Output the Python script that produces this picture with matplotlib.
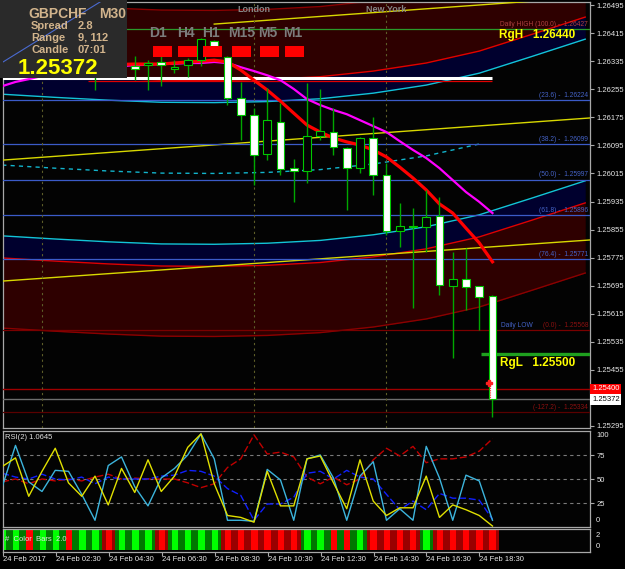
import matplotlib
matplotlib.use("Agg")
import matplotlib.pyplot as plt
import matplotlib.transforms as mtransforms
from matplotlib.patches import Rectangle
import numpy as np

W, H = 625, 569
plt.rcParams['font.family'] = ['Liberation Sans', 'DejaVu Sans']

# header box
symbol = "GBPCHF"
period = "M30"
spread = "2.8"
range_txt = "9, 112"
candle_timer = "07:01"
bid = 1.25372
alert_price = 1.25400

# M30 candles, 24 Feb 2017 00:30 .. 19:00
opens = [1.26315, 1.26325, 1.26318, 1.26305, 1.26322, 1.26330, 1.26310, 1.26320, 1.26326, 1.26312,
         1.26321, 1.26324, 1.26333, 1.26313, 1.26324, 1.26338, 1.26392, 1.26347, 1.26230, 1.26181,
         1.26070, 1.26162, 1.26030, 1.26022, 1.26122, 1.26133, 1.26087, 1.26030, 1.26116, 1.26011,
         1.25851, 1.25862, 1.25862, 1.25894, 1.25694, 1.25714, 1.25694, 1.25666]
highs = [1.26335, 1.26345, 1.26330, 1.26330, 1.26340, 1.26338, 1.26328, 1.26336, 1.26342, 1.26335,
         1.26350, 1.26338, 1.26352, 1.26338, 1.26344, 1.26401, 1.26395, 1.26350, 1.26276, 1.26202,
         1.26258, 1.26216, 1.26056, 1.26273, 1.26256, 1.26202, 1.26090, 1.26119, 1.26176, 1.26045,
         1.25931, 1.25916, 1.25968, 1.25948, 1.25791, 1.25802, 1.25694, 1.25668]
lows = [1.26300, 1.26310, 1.26295, 1.26298, 1.26312, 1.26305, 1.26296, 1.26253, 1.26300, 1.26298,
        1.26281, 1.26253, 1.26264, 1.26301, 1.26290, 1.26321, 1.26372, 1.26210, 1.26110, 1.25982,
        1.26053, 1.26011, 1.25934, 1.25988, 1.26110, 1.26067, 1.25911, 1.26016, 1.25953, 1.25839,
        1.25805, 1.25631, 1.25791, 1.25668, 1.25489, 1.25626, 1.25569, 1.25321]
closes = [1.26325, 1.26318, 1.26305, 1.26322, 1.26330, 1.26310, 1.26320, 1.26326, 1.26312, 1.26321,
          1.26313, 1.26330, 1.26324, 1.26318, 1.26338, 1.26398, 1.26375, 1.26230, 1.26181, 1.26067,
          1.26167, 1.26028, 1.26022, 1.26122, 1.26136, 1.26090, 1.26030, 1.26116, 1.26011, 1.25851,
          1.25865, 1.25865, 1.25891, 1.25697, 1.25714, 1.25691, 1.25663, 1.25372]

ma_fast = [1.26322, 1.26322, 1.26323, 1.26323, 1.26324, 1.26324, 1.26325, 1.26325, 1.26326, 1.26326,
           1.26327, 1.26327, 1.26327, 1.26330, 1.26333, 1.26335, 1.26338, 1.26333, 1.26310, 1.26281,
           1.26253, 1.26221, 1.26187, 1.26153, 1.26133, 1.26116, 1.26105, 1.26096, 1.26082, 1.26062,
           1.26033, 1.26002, 1.25968, 1.25928, 1.25902, 1.25859, 1.25817, 1.25763]
ma_slow = [1.26264, 1.26276, 1.26284, 1.26293, 1.26301, 1.26307, 1.26313, 1.26315, 1.26318, 1.26321,
           1.26324, 1.26325, 1.26327, 1.26328, 1.26330, 1.26330, 1.26333, 1.26330, 1.26318, 1.26307,
           1.26295, 1.26281, 1.26256, 1.26227, 1.26210, 1.26196, 1.26184, 1.26167, 1.26150, 1.26133,
           1.26107, 1.26082, 1.26059, 1.26030, 1.25996, 1.25962, 1.25934, 1.25902]

# regression channel: centre read every 4 bars, half widths of the bands
chan_bars = [0, 4, 8, 12, 16, 20, 24, 28, 32, 36, 40, 44]
chan_mid = [1.26039, 1.26030, 1.26022, 1.26016, 1.26015, 1.26018,
            1.26026, 1.26042, 1.26065, 1.26099, 1.26147, 1.26196]
band_inner = 0.00202
band_mid = 0.00265
band_outer = 0.00465

# yellow regression lines (ends)
lin_bars = [0, 45]
lin_upper = [1.26053, 1.26175]
lin_lower = [1.25708, 1.25827]
lin_top_bars = [16, 45]
lin_top = [1.26441, 1.26520]

trend_bars = [0.06, 7.38]
trend_prices = [1.26333, 1.26504]

fib_names = ["Daily HIGH (100.0)", "(23.6)", "(38.2)", "(50.0)", "(61.8)", "(76.4)",
             "(0.0)", "(-127.2)"]
fib_prices = [1.26427, 1.26224, 1.26099, 1.25997, 1.25896, 1.25771, 1.25568, 1.25334]

session_bars = [3, 19, 29]
session_names = ["", "London", "New York"]

day_open = 1.26287
open_red = 1.26279
rgh = 1.26440
rgl = 1.25500
marker_price = 1.25418

price_ticks = [1.26495, 1.26415, 1.26335, 1.26255, 1.26175, 1.26095, 1.26015, 1.25935,
               1.25855, 1.25775, 1.25695, 1.25615, 1.25535, 1.25455, 1.25295]
time_bars = [0, 4, 8, 12, 16, 20, 24, 28, 32, 36]
time_labels = ["24 Feb 2017", "24 Feb 02:30", "24 Feb 04:30", "24 Feb 06:30", "24 Feb 08:30",
               "24 Feb 10:30", "24 Feb 12:30", "24 Feb 14:30", "24 Feb 16:30", "24 Feb 18:30"]

tf_labels = ["D1", "H4", "H1", "M15", "M5", "M1"]

rsi_value = "1.0645"
rsi_yellow = [63, 72, 32, 58, 82, 46, 32, 53, 23, 61, 36, 70, 37, 53, 83, 97, 45, 12, 10, 5,
              58, 22, 22, 71, 74, 46, 19, 70, 27, 12, 20, 20, 53, 10, 23, 18, 12, 1]
rsi_cyan = [42, 85, 47, 37, 59, 58, 34, 7, 64, 73, 42, 22, 51, 61, 75, 97, 71, 7, 7, 6,
            60, 49, 7, 71, 75, 51, 7, 53, 68, 7, 19, 7, 84, 51, 7, 54, 48, 7]
rsi_blue = [56, 52, 50, 55, 50, 49, 52, 45, 52, 50, 50, 50, 53, 54, 59, 58, 53, 40, 33, 7,
            24, 24, 31, 56, 58, 50, 59, 52, 50, 34, 18, 27, 18, 35, 30, 30, 28, 8]
rsi_red = [47, 50, 45, 50, 48, 50, 48, 52, 55, 50, 51, 50, 50, 50, 46, 41, 45, 62, 71, 96,
           76, 78, 73, 52, 45, 52, 44, 50, 70, 82, 74, 84, 67, 71, 71, 73, 79, 92]

# colour bars: G = up, R = down (bright inner / dark outer)
strip_inner = "GGRGGRGGRGGGRGGGGRRRRRRGGRRGRRRRGRRRRR"
strip_outer = "GGGGGGGGRGGGRGGGGRRRRRRGGGGGRRRRGRRRRR"

# ---------------------------------------------------------------
fig = plt.figure(figsize=(W / 100, H / 100), dpi=100, facecolor='black')
pix = mtransforms.Affine2D().scale(1 / W, -1 / H).translate(0, 1) + fig.transFigure
XLIM = (0.057, 44.36)


def panel(top, bottom):
    a = fig.add_axes([3 / W, 1 - bottom / H, 587 / W, (bottom - top) / H])
    a.set_facecolor('#030303')
    for s in a.spines.values():
        s.set_color('#a8a8a8')
        s.set_linewidth(0.9)
    a.set_xlim(*XLIM)
    a.set_xticks([])
    a.yaxis.tick_right()
    a.tick_params(axis='y', colors='#a8a8a8', labelcolor='#e8e8e8', labelsize=5.5,
                  length=3, width=0.8, pad=2)
    return a


ax = panel(2, 428)
ax_rsi = panel(431, 527)
ax_bar = panel(529, 552)

n = len(opens)
ax.set_ylim(1.25289, 1.26504)
ax.set_yticks(price_ticks)
ax.set_yticklabels([f"{p:.5f}" for p in price_ticks])

# channel bands
cb = np.array(chan_bars)
cm = np.array(chan_mid)
navy, maroon = '#00002e', '#2e0000'
for sg in (1, -1):
    ax.fill_between(cb, cm + sg * band_inner, cm + sg * band_mid, color=navy, lw=0, zorder=1)
    ax.fill_between(cb, cm + sg * band_mid, cm + sg * band_outer, color=maroon, lw=0, zorder=1)
    ax.plot(cb, cm + sg * band_inner, color='#12c4d8', lw=1, zorder=2)
    ax.plot(cb, cm + sg * band_mid, color='#e00000', lw=1, zorder=2)
    ax.plot(cb, cm + sg * band_outer, color='#8b0000', lw=1, zorder=2)
inside = cb <= n - 1
ax.plot(cb[inside], cm[inside], color='#12b4cc', lw=1, ls=(0, (3, 3)), zorder=2)

ax.plot(lin_bars, lin_upper, color='#d8d800', lw=1, zorder=3)
ax.plot(lin_bars, lin_lower, color='#d8d800', lw=1, zorder=3)
ax.plot(lin_top_bars, lin_top, color='#d8d800', lw=1, zorder=3)

# fibonacci levels
blend = mtransforms.blended_transform_factory(ax.transAxes, ax.transData)
fib_line_cols = ['#2a9a2a'] + ['#3b5bc8'] * 5 + ['#7a0000', '#5a0000']
fib_txt_cols = ['#b04040'] + ['#4563c8'] * 5 + ['#8a1010', '#8a1010']
for name, p, lc, tc in zip(fib_names, fib_prices, fib_line_cols, fib_txt_cols):
    ax.axhline(p, color=lc, lw=0.9, zorder=3)
    ax.text(0.997, p + 0.00004, f"{name} -  {p:.5f}", transform=blend, ha='right',
            va='bottom', fontsize=4.8, color=tc, zorder=4)
ax.text(0.903, fib_prices[6] + 0.00004, "Daily LOW", transform=blend, ha='right',
        va='bottom', fontsize=4.8, color='#4563c8', zorder=4)

ax.axhline(alert_price, color='#a00000', lw=1, zorder=3)
ax.axhline(bid, color='#6e6e6e', lw=1, zorder=3)

# sessions
sess_tr = mtransforms.blended_transform_factory(ax.transData, pix)
for b, name in zip(session_bars, session_names):
    ax.axvline(b, color='#5e5e28', lw=0.8, ls=(0, (2, 3)), zorder=3)
    if name:
        ax.text(b, 10, name, transform=sess_tr, ha='center', va='center', fontsize=6.5,
                fontweight='bold', color='#858585', zorder=4)

ax.hlines(day_open, 0, n - 1, color='white', lw=2.2, zorder=4)
ax.hlines(open_red, 6.5, n - 1, color='#e00000', lw=0.9, zorder=4)
ax.hlines(rgl, 36.1, XLIM[1], color='#1fa01f', lw=2.4, zorder=4)

x = np.arange(n)
ax.plot(x, ma_slow, color='#ff00ff', lw=1.6, zorder=5)
ax.plot(x, ma_fast, color='#ff0000', lw=2.3, zorder=5)

# candles
for i in range(n):
    o, h, l, c = opens[i], highs[i], lows[i], closes[i]
    ax.vlines(i, l, h, color='#00a800', lw=1, zorder=6)
    lo, hi = min(o, c), max(o, c)
    ax.add_patch(Rectangle((i - 0.3, lo), 0.6, max(hi - lo, 0.00003),
                           facecolor='#030303' if c >= o else 'white',
                           edgecolor='#00c800', lw=0.8, zorder=7))

ax.plot([36.85, 36.85], [marker_price, bid], color='#ff3030', lw=0.8, ls=(0, (1, 1)), zorder=8)
ax.plot(36.75, marker_price, marker='P', color='#ff2020', ms=4, zorder=8)

# RgH / RgL labels
ax.text(499, 35, f"RgH   {rgh:.5f}", transform=pix, ha='left', va='center', fontsize=8.5,
        fontweight='bold', color='#ffff00', zorder=9)
ax.text(500, 363, f"RgL   {rgl:.5f}", transform=pix, ha='left', va='center', fontsize=8.5,
        fontweight='bold', color='#ffff00', zorder=9)

# price boxes on the axis
ax.text(592, 389, f"{alert_price:.5f}", transform=pix, ha='left', va='center', fontsize=5.5,
        color='white', zorder=30,
        bbox=dict(boxstyle='square,pad=0.2', facecolor='#ff0000', edgecolor='none'))
ax.text(592, 399.5, f"{bid:.5f}", transform=pix, ha='left', va='center', fontsize=5.5,
        color='black', zorder=30,
        bbox=dict(boxstyle='square,pad=0.2', facecolor='white', edgecolor='none'))

# timeframe panel
for lab, tx, rx in zip(tf_labels, [158, 186, 211, 242, 268, 293],
                       [162.5, 187.5, 212.5, 241.5, 269.5, 294.5]):
    ax.text(tx, 33, lab, transform=pix, ha='center', va='center', fontsize=10,
            fontweight='bold', color='#7c7c7c', zorder=6.5)
    ax.add_patch(Rectangle((rx - 9.5, 46), 19, 11, transform=pix, facecolor='#ff0000',
                           edgecolor='none', zorder=9, clip_on=False))

# info box
ax.add_patch(Rectangle((0, 0), 127, 78, transform=pix, facecolor='#2a2a2a',
                       edgecolor='none', zorder=20, clip_on=False))
ax.plot(trend_bars, trend_prices, color='#4a6ad0', lw=0.8, zorder=21)
tan = '#d2b48c'
ax.text(28, 14, symbol, transform=pix, fontsize=10, fontweight='bold', color=tan,
        va='center', zorder=22)
ax.text(99, 14, period, transform=pix, fontsize=10, fontweight='bold', color=tan,
        va='center', zorder=22)
for row, (k, v) in enumerate([("Spread", spread), ("Range", range_txt), ("Candle", candle_timer)]):
    ax.text(31, 26 + 12 * row, k, transform=pix, fontsize=8, fontweight='bold', color=tan,
            va='center', zorder=22)
    ax.text(78, 26 + 12 * row, v, transform=pix, fontsize=8, fontweight='bold', color=tan,
            va='center', zorder=22)
ax.text(18, 68, f"{bid:.5f}", transform=pix, fontsize=16, fontweight='bold', color='#ffff00',
        va='center', zorder=22)

# RSI panel
ax_rsi.set_ylim(0, 100)
ax_rsi.set_yticks([25, 50, 75])
ax_rsi.set_yticklabels(["25", "50", "75"])
for lv in (25, 50, 75):
    ax_rsi.axhline(lv, color='#7a7a7a', lw=0.8, ls=(0, (3, 3)), zorder=1)
ax_rsi.plot(x, rsi_red, color='#c00000', lw=1, ls=(0, (5, 2)), zorder=2)
ax_rsi.plot(x, rsi_blue, color='#1020ff', lw=1, ls=(0, (5, 2)), zorder=2)
ax_rsi.plot(x, rsi_cyan, color='#3cb4dc', lw=1, zorder=3)
ax_rsi.plot(x, rsi_yellow, color='#e0e000', lw=1, zorder=4)
ax_rsi.text(5, 438, f"RSI(2) {rsi_value}", transform=pix, fontsize=5.5, color='#e0e0e0',
            va='center')
ax_rsi.text(596, 436, "100", transform=pix, fontsize=5.5, color='#e8e8e8', va='center')
ax_rsi.text(596, 521, "0", transform=pix, fontsize=5.5, color='#e8e8e8', va='center')

# colour bar strip
bright = {'G': '#00ff00', 'R': '#ff0000'}
dark = {'G': '#007800', 'R': '#9a0000'}
ax_bar.set_ylim(0, 1)
ax_bar.set_yticks([])
for i in range(n):
    ax_bar.add_patch(Rectangle((i - 0.5, 0.08), 1, 0.92, facecolor=dark[strip_outer[i]],
                               edgecolor='none'))
    ax_bar.add_patch(Rectangle((i - 0.24, 0.08), 0.48, 0.92, facecolor=bright[strip_inner[i]],
                               edgecolor='none'))
ax_bar.text(5, 540, "#  Color  Bars  2.0", transform=pix, fontsize=5.5, color='#e0e0e0',
            va='center')
ax_bar.text(596, 536, "2", transform=pix, fontsize=5.5, color='#e8e8e8', va='center')
ax_bar.text(596, 547, "0", transform=pix, fontsize=5.5, color='#e8e8e8', va='center')

ax_bar.set_xticks(time_bars)
ax_bar.set_xticklabels([])
ax_bar.tick_params(axis='x', colors='#a8a8a8', length=3, width=0.8)
time_tr = mtransforms.blended_transform_factory(ax_bar.transData, pix)
for b, lab in zip(time_bars, time_labels):
    ax_bar.text(b, 560, lab, transform=time_tr, ha='left', va='center', fontsize=5.5,
                color='#e8e8e8')

fig.savefig("out.png", dpi=100, facecolor='black')
